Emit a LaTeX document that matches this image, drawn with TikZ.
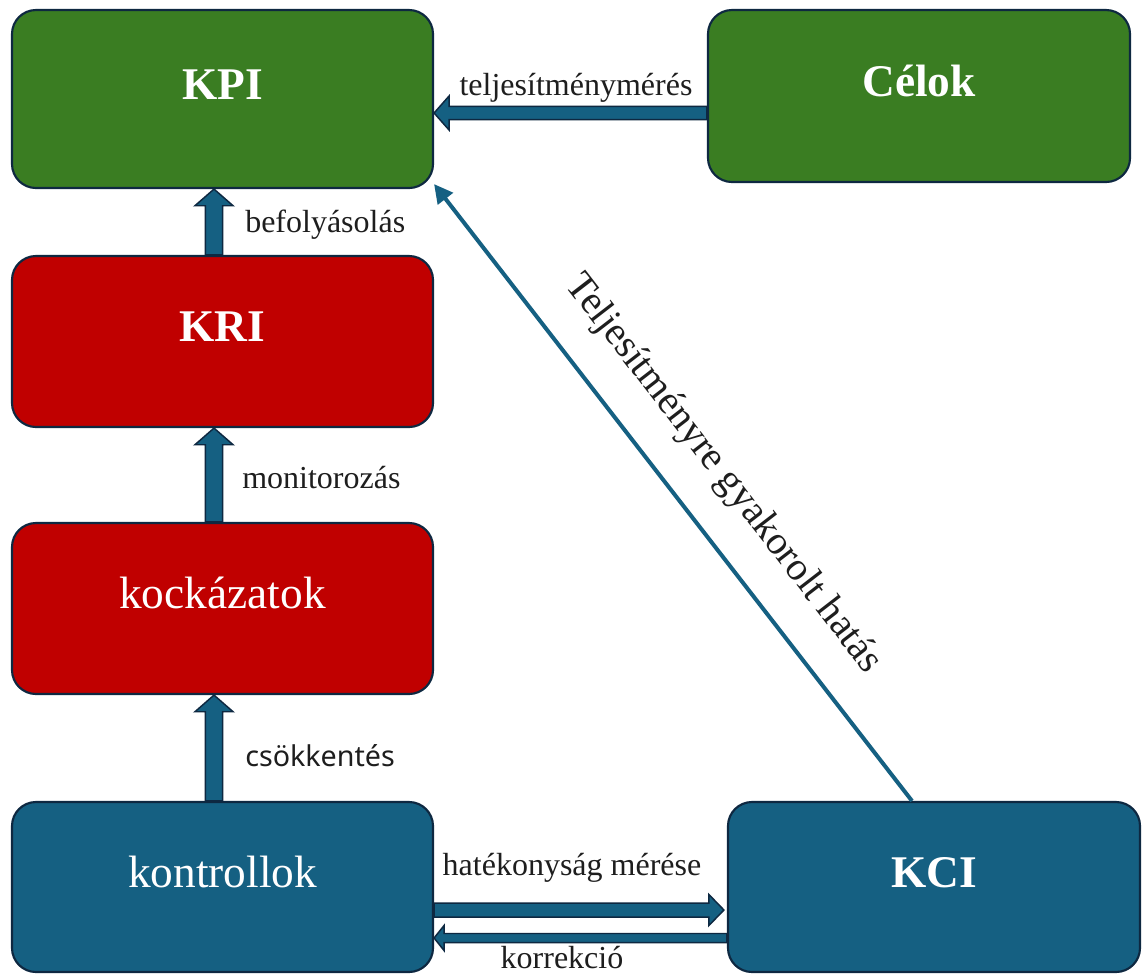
\documentclass[tikz,border=0pt]{standalone}
\usepackage{fontspec}
\setmainfont{Liberation Serif}
\newfontfamily\labelsans{Noto Sans}
\usetikzlibrary{calc,arrows.meta}

\definecolor{kpigreen}{HTML}{3A7D22}
\definecolor{krired}{HTML}{C00000}
\definecolor{ctrlblue}{HTML}{156082}
\definecolor{edgenavy}{HTML}{0E2841}
\definecolor{labelink}{HTML}{1E1E1E}

% Block arrow between two named coordinates:
% #1 base, #2 tip, #3 half shaft width, #4 half head width, #5 head length
\newcommand\BlockArrow[5]{%
  \coordinate (ba-h) at ($(#2)!#5!(#1)$);
  \draw[blockarrow]
    ($(#1)!#3!90:(#2)$) -- ($(ba-h)!#3!-90:(#1)$) -- ($(ba-h)!#4!-90:(#1)$)
    -- (#2)
    -- ($(ba-h)!#4!90:(#1)$) -- ($(ba-h)!#3!90:(#1)$) -- ($(#1)!#3!-90:(#2)$) -- cycle;
}

\tikzset{
  box/.style={draw=edgenavy, line width=1.6pt, rounded corners=18pt,
    text=white, font=\fontsize{34}{40}\selectfont,
    text height=0pt, text depth=0pt, inner sep=0pt},
  boldbox/.style={box, font=\fontsize{34}{40}\selectfont\bfseries},
  blockarrow/.style={fill=ctrlblue, draw=edgenavy, line width=1.1pt, line join=miter},
  thinconn/.style={draw=ctrlblue, line width=3pt, -{Triangle[length=14pt,width=14pt]}},
  lbl/.style={text=labelink, font=\fontsize{24}{28}\selectfont, inner sep=0pt},
  sanslbl/.style={text=labelink, font=\labelsans\fontsize{21.5}{26}\selectfont, inner sep=0pt},
  slantlbl/.style={text=labelink, font=\fontsize{30}{34}\selectfont, inner sep=0pt},
}

\begin{document}
\begin{tikzpicture}[x=0.75pt, y=-0.75pt]
  \useasboundingbox[fill=white] (0,0) rectangle (1142,976);

  % boxes
  \node[boldbox, fill=kpigreen, minimum width=315.75pt, minimum height=133.5pt] (KPI) at (222.5,99) {KPI};
  \node[boldbox, fill=kpigreen, minimum width=316.5pt, minimum height=129pt] (celok) at (919,96) {Célok};
  \node[boldbox, fill=krired, minimum width=315.75pt, minimum height=128.25pt] (KRI) at (222.5,341.5) {KRI};
  \node[box, fill=krired, minimum width=315.75pt, minimum height=128.25pt] (kockazatok) at (222.5,608.5) {kockázatok};
  \node[box, fill=ctrlblue, minimum width=315.75pt, minimum height=127.5pt] (kontrollok) at (222.5,887) {kontrollok};
  \node[boldbox, fill=ctrlblue, minimum width=309pt, minimum height=127.5pt] (KCI) at (934,887) {KCI};

  % vertical block arrows
  \coordinate (b1) at ($(kontrollok.north)+(-8.5,0)$);
  \coordinate (t1) at (b1 |- kockazatok.south);
  \BlockArrow{b1}{t1}{6.4pt}{14.3pt}{12.5pt}
  \coordinate (b2) at ($(kockazatok.north)+(-8.5,0)$);
  \coordinate (t2) at (b2 |- KRI.south);
  \BlockArrow{b2}{t2}{6.4pt}{14.3pt}{12.5pt}
  \coordinate (b3) at ($(KRI.north)+(-8.5,0)$);
  \coordinate (t3) at (b3 |- KPI.south);
  \BlockArrow{b3}{t3}{6.4pt}{14.3pt}{12.5pt}

  % horizontal block arrows
  \coordinate (b4) at ($(celok.west)+(0,17)$);
  \coordinate (t4) at (b4 -| KPI.east);
  \BlockArrow{b4}{t4}{4.9pt}{12.75pt}{11.25pt}
  \coordinate (b5) at ($(kontrollok.east)+(0,23)$);
  \coordinate (t5) at ($(b5 -| KCI.west)+(-3,0)$);
  \BlockArrow{b5}{t5}{5.25pt}{11.6pt}{11.25pt}
  \coordinate (b6) at ($(KCI.west)+(0,51)$);
  \coordinate (t6) at (b6 -| kontrollok.east);
  \BlockArrow{b6}{t6}{3.4pt}{9.4pt}{7.5pt}

  % diagonal connector
  \coordinate (d1) at ($(KCI.north)+(-22,0)$);
  \coordinate (d2) at ($(KPI.south east)+(0,-5)$);
  \draw[thinconn] (d1) -- (d2);

  % labels
  \node[lbl, anchor=base] (l-meres) at (576,95) {teljesítménymérés};
  \node[lbl, anchor=base west] (l-befoly) at (245,232) {befolyásolás};
  \node[lbl, anchor=base west] (l-monitor) at (242,488) {monitorozás};
  \node[sanslbl, anchor=base west] (l-csokk) at (245,766) {csökkentés};
  \node[lbl, anchor=base] (l-hatek) at (572,875) {hatékonyság mérése};
  \node[lbl, anchor=base] (l-korr) at (562,968) {korrekció};
  \node[slantlbl, rotate=-52.3] (l-hatas) at (723,474) {Teljesítményre gyakorolt hatás};
\end{tikzpicture}
\end{document}
